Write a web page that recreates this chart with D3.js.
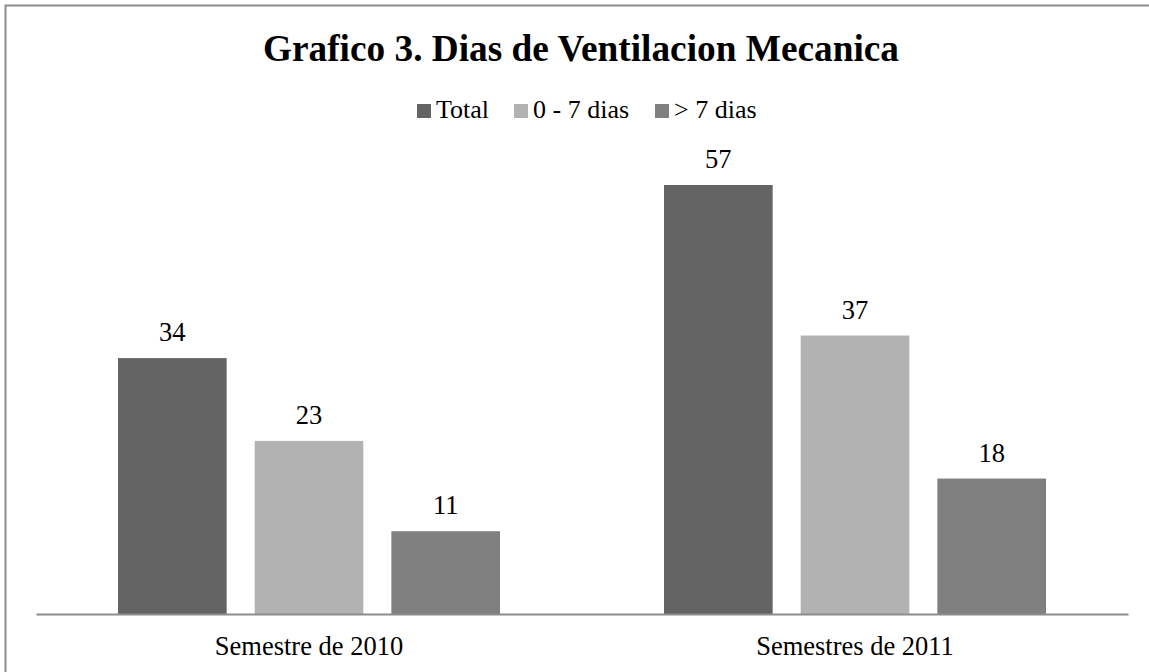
<!DOCTYPE html>
<html><head><meta charset="utf-8">
<script src="https://cdn.jsdelivr.net/npm/d3@7"></script>
<style>body{margin:0;background:#fff}svg{display:block}
text{font-family:"Liberation Serif","Times New Roman",Times,serif}</style>
</head><body>
<svg id="c" width="1149" height="672"></svg>
<script>
const categories = ["Semestre de 2010", "Semestres de 2011"];
const seriesNames = ["Total", "0 - 7 dias", "> 7 dias"];
const totalValues = [34, 57];
const shortValues = [23, 37];
const longValues = [11, 18];
const seriesColors = ["#646464", "#b2b2b2", "#808080"];
const titleText = "Grafico 3. Dias de Ventilacion Mecanica";

const svg = d3.select("#c");

svg.append("rect").attr("x", 5.5).attr("y", 5.5).attr("width", 1160).attr("height", 680)
  .attr("fill", "none").attr("stroke", "#8c8c8c").attr("stroke-width", 2);

svg.append("text").attr("x", 581).attr("y", 61).attr("text-anchor", "middle")
  .attr("font-weight", "bold").attr("font-size", 37.3)
  .text(titleText);

const left = 36, right = 1128, baseY = 614;
const x0 = d3.scaleBand().domain(categories).range([left, right]).padding(0);
const x1 = d3.scaleBand().domain(seriesNames).range([82, 464]).paddingInner(28 / 136.5).paddingOuter(0);
const y = d3.scaleLinear().domain([0, 57]).range([baseY, 185]);

const data = categories.map((c, i) => ({cat: c, vals: [totalValues[i], shortValues[i], longValues[i]]}));

const g = svg.append("g");
data.forEach(d => {
  d.vals.forEach((v, j) => {
    const bx = x0(d.cat) + x1(seriesNames[j]);
    g.append("rect").attr("x", bx).attr("y", y(v)).attr("width", x1.bandwidth())
      .attr("height", baseY - y(v)).attr("fill", seriesColors[j]);
    g.append("text").attr("x", bx + x1.bandwidth() / 2).attr("y", y(v) - 17)
      .attr("text-anchor", "middle").attr("font-size", 26.5)
      .attr("fill", "#000").text(v);
  });
});

const axis = d3.axisBottom(x0).tickSize(0).tickPadding(22);
const ag = svg.append("g").attr("transform", `translate(0,${baseY})`).call(axis);
ag.select(".domain").attr("stroke", "#8c8c8c").attr("stroke-width", 2);
ag.selectAll("text").attr("font-family", null).attr("font-size", 26.5).attr("fill", "#000");

// legend
const leg = svg.append("g");
const starts = [417, 514, 655];
seriesNames.forEach((n, i) => {
  leg.append("rect").attr("x", starts[i]).attr("y", 104).attr("width", 14).attr("height", 14).attr("fill", seriesColors[i]);
  leg.append("text").attr("x", starts[i] + 19).attr("y", 118).attr("font-size", 26)
    .attr("fill", "#000").text(n);
});
</script>
</body></html>
